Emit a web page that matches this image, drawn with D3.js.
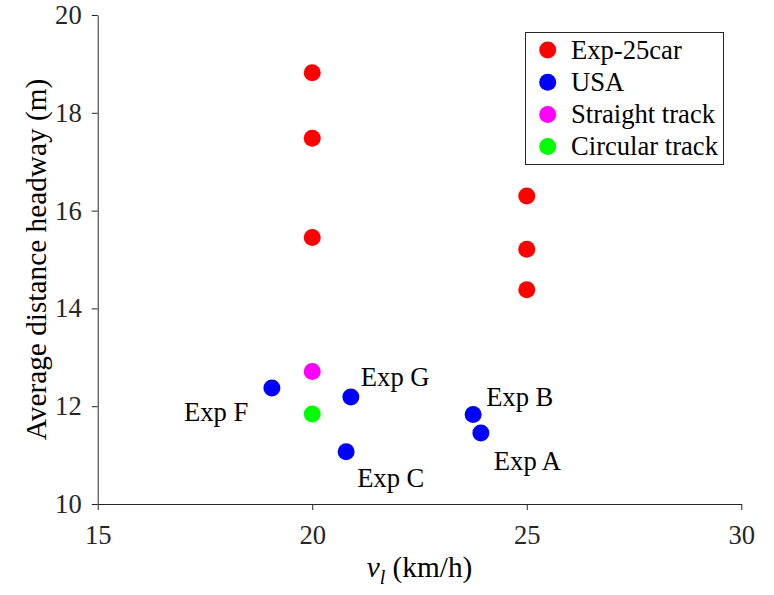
<!DOCTYPE html>
<html>
<head>
<meta charset="utf-8">
<script src="https://cdn.jsdelivr.net/npm/d3@7"></script>
<style>
  body { margin: 0; background: #fff; }
</style>
</head>
<body>
<script>
// data
const expSpeeds = [20, 20, 20, 25, 25, 25];
const expHeadways = [18.82, 17.48, 15.45, 16.3, 15.21, 14.38];
const usaNames = ["Exp F", "Exp G", "Exp C", "Exp B", "Exp A"];
const usaSpeeds = [19.06, 20.9, 20.79, 23.75, 23.93];
const usaHeadways = [12.37, 12.19, 11.07, 11.83, 11.45];
const straightSpeeds = [20];
const straightHeadways = [12.71];
const circularSpeeds = [20];
const circularHeadways = [11.84];
const xTicks = [15, 20, 25, 30];
const yTicks = [10, 12, 14, 16, 18, 20];
const legendNames = ["Exp-25car", "USA", "Straight track", "Circular track"];
const colors = ["#ff0000", "#0000ff", "#ff00ff", "#00ff00"];

const width = 774;
const height = 595;
const font = "Liberation Serif";
const fs = 26.6;
const labelFs = 29.3;

const svg = d3.select("body").append("svg")
  .attr("width", width)
  .attr("height", height);

const x = d3.scaleLinear().domain([15, 30]).range([97.7, 741.3]);
const y = d3.scaleLinear().domain([10, 20]).range([504, 15]);

// axes (left and bottom only)
const xg = svg.append("g")
  .attr("transform", `translate(0,${y(10)})`)
  .call(d3.axisBottom(x).tickValues(xTicks).tickSize(6).tickPadding(15).tickSizeOuter(0));
const yg = svg.append("g")
  .attr("transform", `translate(${x(15)},0)`)
  .call(d3.axisLeft(y).tickValues(yTicks).tickSize(6).tickPadding(10).tickSizeOuter(0));

[xg, yg].forEach(g => {
  g.select(".domain").attr("stroke", "#262626");
  g.selectAll(".tick line").attr("stroke", "#262626");
  g.selectAll("text")
    .style("font-family", font)
    .style("font-size", fs + "px")
    .attr("fill", "#262626");
});

// axis labels
svg.append("text")
  .attr("transform", `translate(46,${(y(10) + y(20)) / 2}) rotate(-90)`)
  .attr("text-anchor", "middle")
  .style("font-family", font)
  .style("font-size", labelFs + "px")
  .text("Average distance headway (m)");

const xl = svg.append("text")
  .attr("x", (x(15) + x(30)) / 2)
  .attr("y", 577)
  .attr("text-anchor", "middle")
  .style("font-family", font)
  .style("font-size", labelFs + "px");
xl.append("tspan").attr("font-style", "italic").text("v");
xl.append("tspan").attr("font-style", "italic").style("font-size", "20px").attr("dy", 7).text("l");
xl.append("tspan").attr("dy", -7).text(" (km/h)");

// points
const groups = [
  { xs: expSpeeds, ys: expHeadways, c: colors[0] },
  { xs: usaSpeeds, ys: usaHeadways, c: colors[1] },
  { xs: straightSpeeds, ys: straightHeadways, c: colors[2] },
  { xs: circularSpeeds, ys: circularHeadways, c: colors[3] }
];
groups.forEach(gr => {
  svg.append("g").selectAll("circle")
    .data(gr.xs)
    .enter()
    .append("circle")
    .attr("cx", d => x(d))
    .attr("cy", (d, i) => y(gr.ys[i]))
    .attr("r", 8.5)
    .attr("fill", gr.c);
});

// USA labels (offsets from each point)
const labelOffsets = [[-88, 33], [10, -11], [11, 35], [13, -9], [13, 37]];
svg.append("g").selectAll("text")
  .data(usaNames)
  .enter()
  .append("text")
  .attr("x", (d, i) => x(usaSpeeds[i]) + labelOffsets[i][0])
  .attr("y", (d, i) => y(usaHeadways[i]) + labelOffsets[i][1])
  .style("font-family", font)
  .style("font-size", fs + "px")
  .text(d => d);

// legend
const lg = svg.append("g");
lg.append("rect")
  .attr("x", 525.5).attr("y", 32.5)
  .attr("width", 198).attr("height", 132)
  .attr("fill", "#fff")
  .attr("stroke", "#262626")
  .attr("stroke-width", 1);
legendNames.forEach((name, i) => {
  const ly = 50 + i * 32.2;
  lg.append("circle").attr("cx", 547.7).attr("cy", ly).attr("r", 8.5).attr("fill", colors[i]);
  lg.append("text")
    .attr("x", 571).attr("y", ly + 8.5)
    .style("font-family", font)
    .style("font-size", fs + "px")
    .text(name);
});
</script>
</body>
</html>
